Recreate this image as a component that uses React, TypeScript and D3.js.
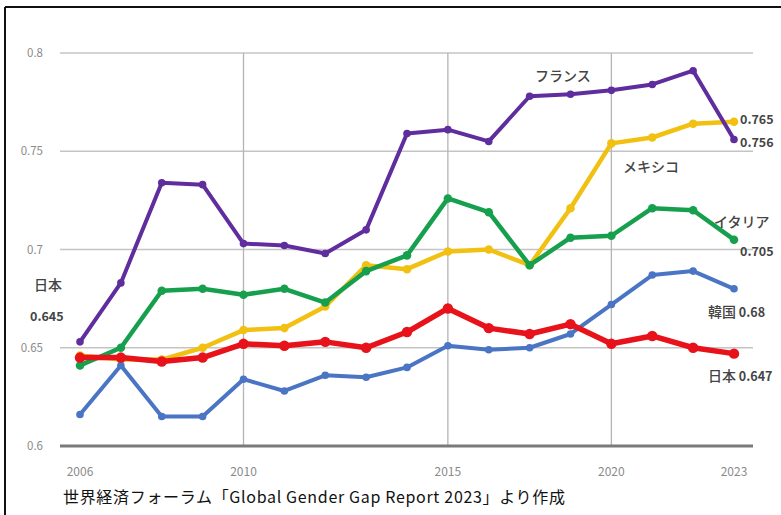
import React from "react";
import * as d3 from "d3";

const years = ["2006","2007","2008","2009","2010","2011","2012","2013","2014","2015","2016","2017","2018","2020","2021","2022","2023"];
const tickYears = ["2006","2010","2015","2020","2023"];
const gridYears = ["2010","2015","2020"];
const yTicks = [0.6, 0.65, 0.7, 0.75, 0.8];

const france = [0.653,0.683,0.734,0.733,0.703,0.702,0.698,0.710,0.759,0.761,0.755,0.778,0.779,0.781,0.784,0.791,0.756];
const mexico = [0.646,0.644,0.644,0.650,0.659,0.660,0.671,0.692,0.690,0.699,0.700,0.692,0.721,0.754,0.757,0.764,0.765];
const italy = [0.641,0.650,0.679,0.680,0.677,0.680,0.673,0.689,0.697,0.726,0.719,0.692,0.706,0.707,0.721,0.720,0.705];
const korea = [0.616,0.641,0.615,0.615,0.634,0.628,0.636,0.635,0.640,0.651,0.649,0.650,0.657,0.672,0.687,0.689,0.680];
const japan = [0.645,0.645,0.643,0.645,0.652,0.651,0.653,0.650,0.658,0.670,0.660,0.657,0.662,0.652,0.656,0.650,0.647];

const seriesNames = ["メキシコ","フランス","イタリア","韓国","日本"];
const seriesValues = [mexico, france, italy, korea, japan];
const seriesColors = ["#f2c010", "#5f2d9e", "#16a04e", "#4a74c4", "#e8121a"];
const seriesWidths = [4.5, 4, 4.5, 4, 5.5];

const caption = "世界経済フォーラム「Global Gender Gap Report 2023」より作成";

export default function App() {
  const W = 781, H = 515;
  const x = d3.scalePoint<string>().domain(years).range([80, 734]);
  const y = d3.scaleLinear().domain([0.6, 0.8]).range([446, 53]);
  const line = d3.line<number>().x((_, i) => x(years[i]) as number).y(d => y(d));
  const jp = "'Noto Sans CJK JP', 'Noto Sans', sans-serif";
  const gray = "#8a8a8a";
  const dark = "#444";
  return (
    <svg width={W} height={H} style={{ position: "absolute", left: 0, top: 0, background: "#fff" }} fontFamily={jp}>
      <rect x={0} y={0} width={W} height={H} fill="#fff" />
      {/* frame */}
      <line x1={5} y1={7} x2={W} y2={7} stroke="#111" strokeWidth={2} />
      <line x1={5} y1={7} x2={5} y2={H} stroke="#111" strokeWidth={2} />
      {/* horizontal grid */}
      {yTicks.filter(t => t > 0.6).map(t => (
        <line key={t} x1={60} x2={753} y1={y(t)} y2={y(t)} stroke="#c4c4c4" strokeWidth={1.5} />
      ))}
      {/* vertical grid */}
      {gridYears.map(yr => (
        <line key={yr} x1={x(yr)} x2={x(yr)} y1={y(0.8)} y2={y(0.6)} stroke="#b4b4b4" strokeWidth={1.3} />
      ))}
      {/* base axis */}
      <line x1={60} x2={753} y1={y(0.6)} y2={y(0.6)} stroke="#7a7a7a" strokeWidth={3} />
      {/* y tick labels */}
      {yTicks.map(t => (
        <text key={t} x={43} y={y(t)} dy="0.35em" textAnchor="end" fontSize={11.5} fill={gray}>{String(t)}</text>
      ))}
      {/* x tick labels */}
      {tickYears.map(yr => (
        <text key={yr} x={x(yr)} y={472} dy="0.35em" textAnchor="middle" fontSize={12} fill={gray}>{yr}</text>
      ))}
      {/* series */}
      {seriesValues.map((vals, si) => (
        <g key={seriesNames[si]}>
          <path d={line(vals) || ""} fill="none" stroke={seriesColors[si]} strokeWidth={seriesWidths[si]} strokeLinejoin="round" />
          {vals.map((v, i) => (
            <circle key={i} cx={x(years[i])} cy={y(v)} r={seriesWidths[si] * 0.95} fill={seriesColors[si]} />
          ))}
        </g>
      ))}
      {/* series labels */}
      <g fill={dark} fontSize={14} fontWeight={500}>
        <text x={535} y={76} dy="0.35em">フランス</text>
        <text x={623} y={167} dy="0.35em">メキシコ</text>
        <text x={714} y={222} dy="0.35em">イタリア</text>
        <text x={34} y={285} dy="0.35em">日本</text>
        <text x={708} y={312} dy="0.35em">韓国<tspan fontSize={12.5} fontWeight={700}> 0.68</tspan></text>
        <text x={708} y={376} dy="0.35em">日本<tspan fontSize={12.5} fontWeight={700}> 0.647</tspan></text>
      </g>
      <g fill={dark} fontSize={12.5} fontWeight={700}>
        <text x={740} y={120} dy="0.35em">{String(mexico[mexico.length - 1])}</text>
        <text x={740} y={143} dy="0.35em">{String(france[france.length - 1])}</text>
        <text x={740} y={252} dy="0.35em">{String(italy[italy.length - 1])}</text>
        <text x={30} y={317} dy="0.35em">{String(japan[0])}</text>
      </g>
      <text x={63} y={497} dy="0.35em" fontSize={16} fill="#111" textLength={502} lengthAdjust="spacing">{caption}</text>
    </svg>
  );
}
